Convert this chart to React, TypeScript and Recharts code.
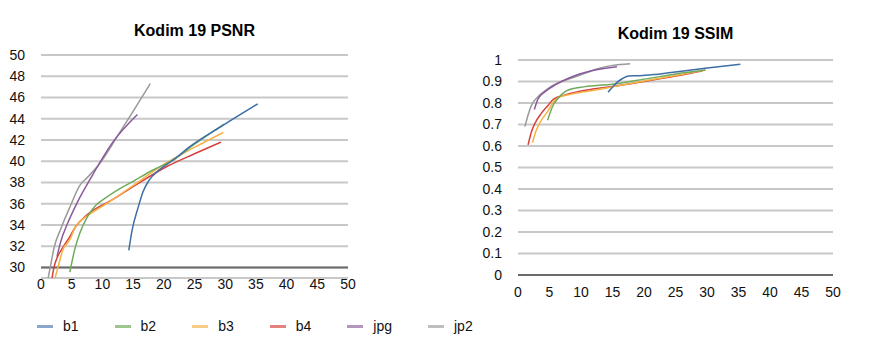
import React from 'react';
import { LineChart, Line, XAxis, YAxis, CartesianGrid, ReferenceLine } from 'recharts';

const seriesNames = ['b1', 'b2', 'b3', 'b4', 'jpg', 'jp2'];
const lineColors = ['#3d6ea8', '#6fab5c', '#f4b246', '#d6423b', '#8a5a9e', '#9a9a9a'];
const legendColors = ['#8aa7ca', '#9dc78f', '#f6cc86', '#e38280', '#b396be', '#bfbfbf'];

const xTicks = [0, 5, 10, 15, 20, 25, 30, 35, 40, 45, 50];
const psnrTicks = [30, 32, 34, 36, 38, 40, 42, 44, 46, 48, 50];
const ssimTicks = [0, 0.1, 0.2, 0.3, 0.4, 0.5, 0.6, 0.7, 0.8, 0.9, 1];

const xB1 = [14.3, 14.8, 15.8, 16.6, 17.6, 19.3, 21.5, 24.3, 29.7, 35.3];
const psnrB1 = [31.6, 33.4, 35.6, 37.1, 38.2, 39.2, 40.1, 41.4, 43.4, 45.4];
const ssimB1 = [0.85, 0.867, 0.898, 0.914, 0.926, 0.927, 0.932, 0.942, 0.962, 0.98];

const xB2 = [4.7, 5.5, 6.3, 7.6, 9.0, 10.4, 12.5, 15.0, 18.0, 21.5, 25.0, 29.8];
const psnrB2 = [29.55, 31.7, 33.2, 34.8, 35.9, 36.5, 37.3, 38.1, 39.1, 40.1, 41.6, 43.5];
const ssimB2 = [0.72, 0.785, 0.82, 0.855, 0.869, 0.875, 0.881, 0.887, 0.901, 0.918, 0.935, 0.953];

const xB3 = [2.3, 2.8, 3.6, 4.7, 5.5, 6.3, 8.2, 10.4, 12.5, 15, 20, 25, 29.7];
const psnrB3 = [29.0, 30.1, 31.7, 32.6, 33.7, 34.3, 35.1, 35.9, 36.7, 37.7, 39.7, 41.3, 42.7];
const ssimB3 = [0.615, 0.665, 0.715, 0.76, 0.8, 0.823, 0.84, 0.852, 0.862, 0.875, 0.902, 0.928, 0.953];

const xB4 = [1.6, 2.15, 2.7, 3.7, 4.8, 5.6, 7.4, 11.7, 15, 20.5, 25, 29.3];
const psnrB4 = [28.3, 30.1, 31.0, 32.0, 33.0, 33.8, 34.9, 36.4, 37.6, 39.5, 40.7, 41.8];
const ssimB4 = [0.605, 0.667, 0.706, 0.752, 0.79, 0.817, 0.837, 0.864, 0.877, 0.902, 0.925, 0.95];

const xJpg = [2.6, 3.2, 4.3, 5.9, 8.0, 11.7, 15.7];
const psnrJpg = [31.0, 32.4, 34.1, 36.1, 38.3, 41.8, 44.4];
const ssimJpg = [0.77, 0.82, 0.853, 0.884, 0.915, 0.95, 0.969];

const xJp2 = [1.1, 1.6, 2.15, 3.2, 4.8, 6.3, 7.6, 9.6, 12.5, 15, 17.8];
const psnrJp2 = [28.8, 30.3, 31.9, 33.6, 35.8, 37.7, 38.5, 39.8, 42.4, 44.7, 47.3];
const ssimJp2 = [0.69, 0.744, 0.79, 0.83, 0.868, 0.893, 0.907, 0.927, 0.958, 0.975, 0.983];

const seriesX = [xB1, xB2, xB3, xB4, xJpg, xJp2];
const seriesPsnr = [psnrB1, psnrB2, psnrB3, psnrB4, psnrJpg, psnrJp2];
const seriesSsim = [ssimB1, ssimB2, ssimB3, ssimB4, ssimJpg, ssimJp2];

const FONT = '"Liberation Sans", Arial, Helvetica, sans-serif';

const toRows = (xs: number[], ys: number[]) => xs.map((x, i) => ({ x, y: ys[i] }));

const drawOrder = [5, 4, 3, 2, 1, 0];

const tickStyle = { fill: '#111', fontSize: 14, fontFamily: FONT };

function renderLines(values: number[][]) {
  return drawOrder.map((i) => (
    <Line
      key={seriesNames[i]}
      data={toRows(seriesX[i], values[i])}
      dataKey="y"
      name={seriesNames[i]}
      type="monotone"
      stroke={lineColors[i]}
      strokeWidth={1.5}
      dot={false}
      activeDot={false}
      isAnimationActive={false}
    />
  ));
}

export default function App() {
  return (
    <div style={{ position: 'absolute', left: 0, top: 0, width: 891, height: 356, background: '#fff', fontFamily: FONT }}>
      <div style={{ position: 'absolute', left: 41, width: 307, top: 21, lineHeight: '20px', textAlign: 'center', fontWeight: 'bold', fontSize: 16, color: '#000' }}>
        Kodim 19 PSNR
      </div>
      <div style={{ position: 'absolute', left: 518, width: 315, top: 24, lineHeight: '20px', textAlign: 'center', fontWeight: 'bold', fontSize: 16, color: '#000' }}>
        Kodim 19 SSIM
      </div>

      <div style={{ position: 'absolute', left: 0, top: 0 }}>
        <LineChart width={360} height={300} margin={{ top: 55, right: 12, bottom: 0, left: 0 }}>
          <CartesianGrid vertical={false} stroke="#c8c8c8" strokeWidth={2} />
          <XAxis type="number" dataKey="x" domain={[0, 50]} ticks={xTicks} axisLine={false} tickLine={false} tickSize={0} tickMargin={1} height={22} tick={tickStyle} interval={0} />
          <YAxis type="number" domain={[29, 50]} allowDataOverflow ticks={psnrTicks} axisLine={false} tickLine={false} tickSize={0} tickMargin={16} width={41} tick={tickStyle} interval={0} />
          <ReferenceLine y={30} stroke="#6a6a6a" strokeWidth={2} />
          {renderLines(seriesPsnr)}
        </LineChart>
      </div>

      <div style={{ position: 'absolute', left: 460, top: 0 }}>
        <LineChart width={431} height={300} margin={{ top: 60, right: 58, bottom: 0, left: 0 }}>
          <CartesianGrid vertical={false} stroke="#c8c8c8" strokeWidth={2} />
          <XAxis type="number" dataKey="x" domain={[0, 50]} ticks={xTicks} axisLine={false} tickLine={false} tickSize={0} tickMargin={12} height={25} tick={tickStyle} interval={0} />
          <YAxis type="number" domain={[0, 1]} ticks={ssimTicks} axisLine={false} tickLine={false} tickSize={0} tickMargin={16} width={58} tick={tickStyle} interval={0} />
          <ReferenceLine y={0} stroke="#6a6a6a" strokeWidth={2} />
          {renderLines(seriesSsim)}
        </LineChart>
      </div>

      <div style={{ position: 'absolute', left: 37, top: 316, height: 20, display: 'flex', alignItems: 'center' }}>
        {seriesNames.map((name, i) => (
          <div key={name} style={{ display: 'flex', alignItems: 'center', marginRight: 36 }}>
            <span style={{ display: 'inline-block', width: 16, height: 3, background: legendColors[i], marginRight: 10 }} />
            <span style={{ fontSize: 14, color: '#111' }}>{name}</span>
          </div>
        ))}
      </div>
    </div>
  );
}
